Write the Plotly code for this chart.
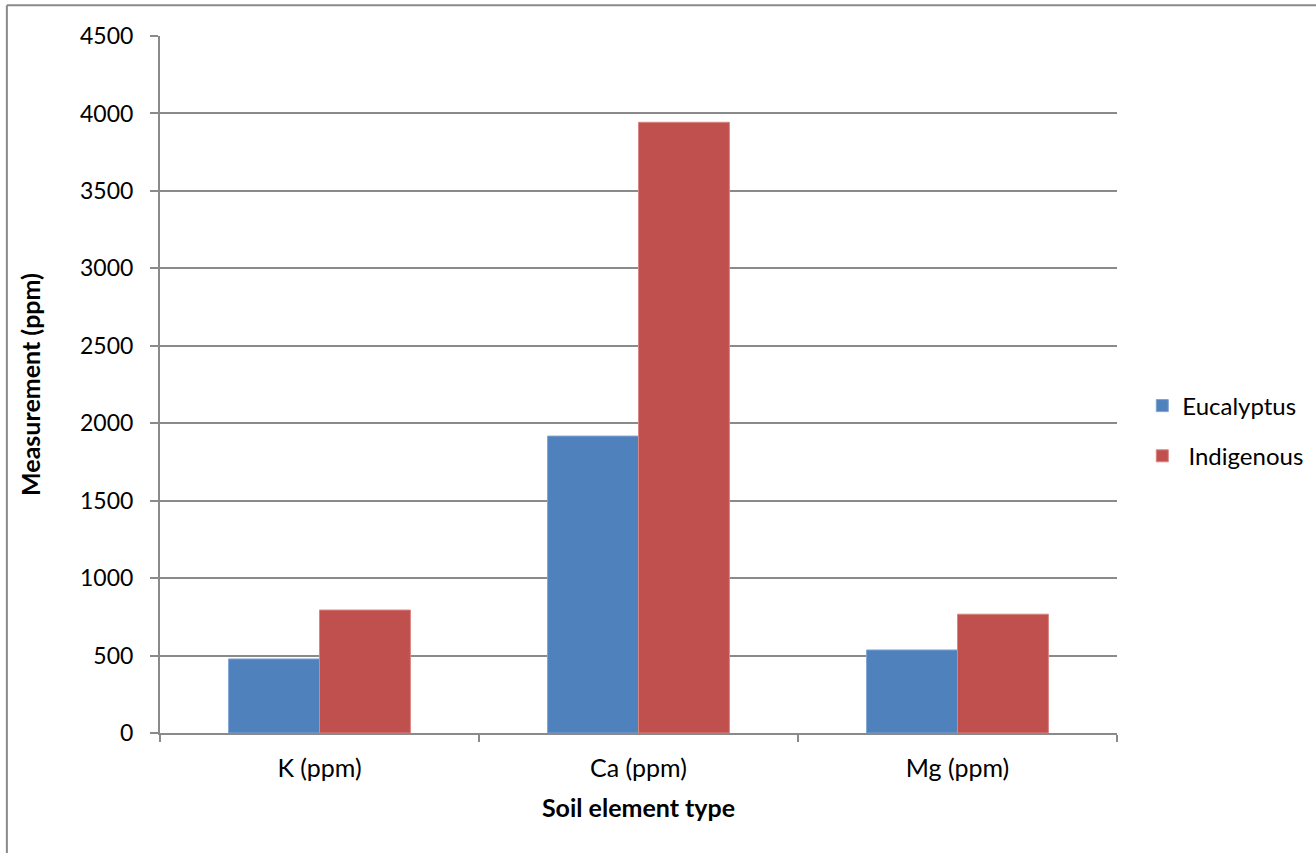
import plotly.graph_objects as go

categories = ["K (ppm)", "Ca (ppm)", "Mg (ppm)"]
eucalyptus = [478, 1917, 536]
indigenous = [794, 3943, 767]
y_ticks = [0, 500, 1000, 1500, 2000, 2500, 3000, 3500, 4000, 4500]

FONT = "Lato, 'Open Sans', sans-serif"
GRID = "#8a8a8a"

fig = go.Figure()
fig.add_trace(go.Bar(
    x=categories, y=eucalyptus, name="Eucalyptus", legendgroup="e",
    marker=dict(color="#4F81BD", line=dict(color="#7fa3d3", width=1)),
))
fig.add_trace(go.Bar(
    x=categories, y=indigenous, name=" Indigenous", legendgroup="i",
    marker=dict(color="#C0504D", line=dict(color="#d98583", width=1)),
))

fig.update_layout(
    width=1316, height=853,
    margin=dict(l=160, r=199, t=36, b=120, autoexpand=False),
    paper_bgcolor="white", plot_bgcolor="white",
    barmode="group", bargap=0.43, bargroupgap=0,
    font=dict(family=FONT, size=24, color="black"),
    legend=dict(xref="container", yref="container", x=0.868, y=0.4947,
                xanchor="left", yanchor="middle",
                font=dict(size=24), tracegroupgap=16, itemwidth=30),
    showlegend=True,
)
fig.update_xaxes(
    type="category", range=[-0.5, 2.5], automargin=False,
    showline=True, linecolor=GRID, linewidth=2,
    ticks="outside", tickson="boundaries", ticklen=7, tickcolor=GRID, tickwidth=2,
    ticklabelstandoff=12,
    showgrid=False,
    tickfont=dict(size=25),
    title=dict(text="<b>Soil element type</b>", font=dict(size=25), standoff=18),
)
fig.update_yaxes(
    range=[0, 4500], tickvals=y_ticks, automargin=False,
    showline=True, linecolor=GRID, linewidth=2,
    ticks="outside", ticklen=8, tickcolor=GRID, tickwidth=2,
    ticklabelstandoff=12,
    showgrid=True, gridcolor=GRID, gridwidth=2,
    zeroline=False,
    tickfont=dict(size=23),
    title=dict(text="<b>Measurement (ppm)</b>", font=dict(size=25), standoff=32),
)

# Chart-area frame: left and top edges
fig.add_shape(type="line", xref="paper", yref="paper",
              x0=-0.16, x1=-0.16, y0=1.044, y1=-0.2,
              line=dict(color=GRID, width=2))
fig.add_shape(type="line", xref="paper", yref="paper",
              x0=-0.16, x1=1.3, y0=1.044, y1=1.044,
              line=dict(color=GRID, width=2))

fig.write_html("out.html")
